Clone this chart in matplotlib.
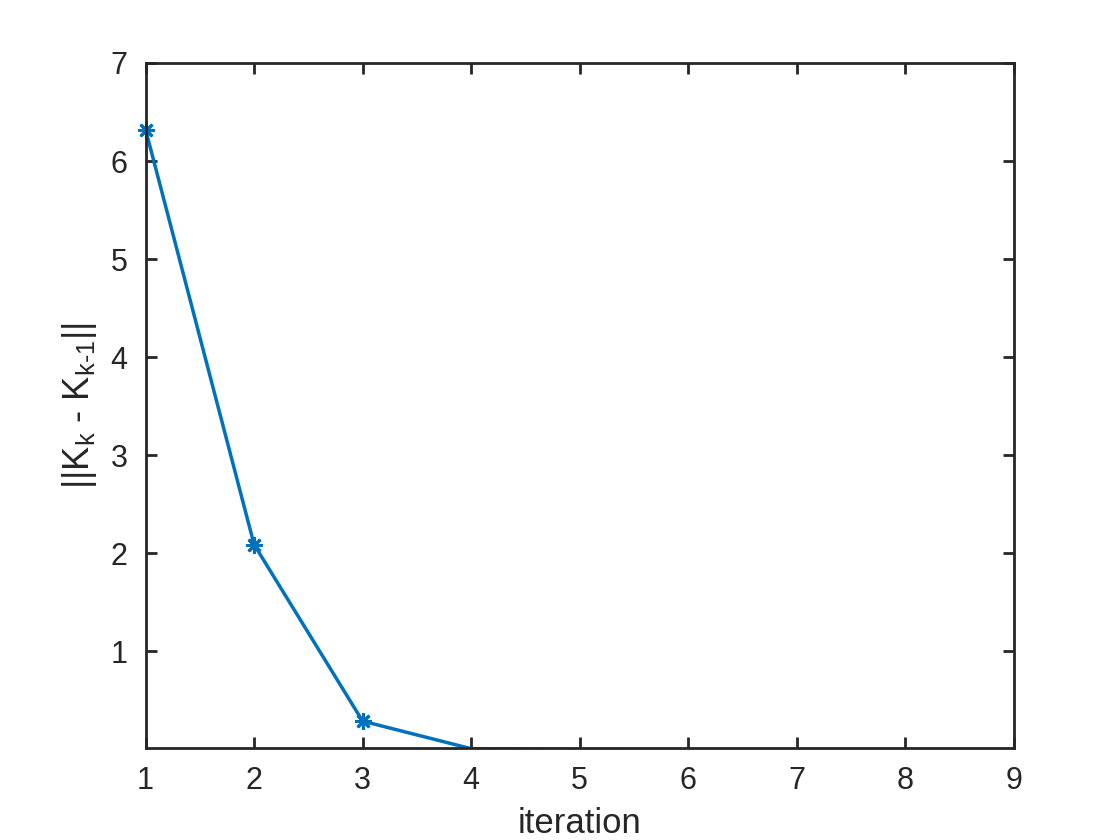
import numpy as np
import matplotlib
matplotlib.use("Agg")
import matplotlib.pyplot as plt

plt.rcParams['font.family'] = ['Liberation Sans', 'DejaVu Sans']
plt.rcParams['mathtext.fontset'] = 'custom'
plt.rcParams['mathtext.rm'] = 'Liberation Sans'
plt.rcParams['mathtext.it'] = 'Liberation Sans'

iteration = [1, 2, 3, 4, 5, 6, 7, 8, 9]
diff_norm = [6.32, 2.09, 0.29, 0.009, 0.0004, 0.00002, 0.000001, 0.0, 0.0]
y_min, y_max = 0.02, 7

fig = plt.figure(figsize=(11.2, 8.4), dpi=100)
ax = fig.add_axes([0.13, 0.11, 0.775, 0.815])

x = np.array(iteration)
y = np.array(diff_norm)
ax.plot(x, y, '-', color='#0072BD', linewidth=2.5)
# matlab drops markers whose point is outside the limits
inside = y >= y_min
ax.plot(x[inside], y[inside], linestyle='none', marker=(8, 2, 0),
        color='#0072BD', markersize=12, markeredgewidth=2, clip_on=False)

ax.set_xlim(1, 9)
ax.set_ylim(y_min, y_max)
ax.set_xticks(range(1, 10))
ax.set_yticks(range(1, 8))

ax.tick_params(direction='in', length=8, width=2, colors='#262626',
               labelsize=22, top=True, right=True, pad=13)
for s in ax.spines.values():
    s.set_linewidth(2)
    s.set_color('#262626')

ax.set_xlabel('iteration', fontsize=25, color='#262626', labelpad=8)
ax.set_ylabel('$\\mathregular{||K_k\\ \u2010\\ K_{k\u20101}||}$', fontsize=26,
              color='#262626', labelpad=8)

fig.savefig('out.png', dpi=100)
